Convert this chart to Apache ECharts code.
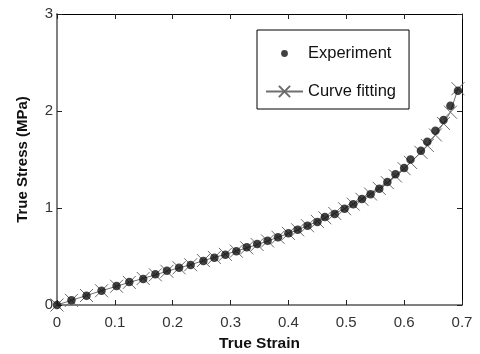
<!DOCTYPE html>
<html><head><meta charset="utf-8">
<script src="https://cdn.jsdelivr.net/npm/echarts@6/dist/echarts.min.js"></script>
<style>html,body{margin:0;padding:0;background:#fff}#c{width:480px;height:354px}</style>
</head><body><div id="c"></div>
<script>
var strain = [0, 0.025, 0.051, 0.077, 0.103, 0.125, 0.149, 0.170, 0.190, 0.211, 0.231, 0.253, 0.272, 0.291, 0.310, 0.328, 0.346, 0.364, 0.382, 0.400, 0.416, 0.433, 0.450, 0.463, 0.480, 0.497, 0.512, 0.527, 0.542, 0.557, 0.571, 0.585, 0.600, 0.611, 0.629, 0.640, 0.654, 0.668, 0.680, 0.693];
var expStress = [0, 0.05, 0.096, 0.147, 0.196, 0.237, 0.268, 0.316, 0.354, 0.385, 0.412, 0.454, 0.488, 0.519, 0.554, 0.595, 0.629, 0.663, 0.698, 0.739, 0.776, 0.818, 0.856, 0.907, 0.938, 0.993, 1.039, 1.093, 1.142, 1.198, 1.268, 1.347, 1.412, 1.50, 1.591, 1.684, 1.797, 1.907, 2.055, 2.209];
var fitStress = [0, 0.048, 0.098, 0.147, 0.193, 0.233, 0.274, 0.311, 0.347, 0.384, 0.415, 0.458, 0.490, 0.522, 0.555, 0.589, 0.623, 0.660, 0.698, 0.738, 0.775, 0.817, 0.862, 0.899, 0.944, 0.993, 1.040, 1.090, 1.144, 1.202, 1.261, 1.330, 1.405, 1.470, 1.574, 1.645, 1.753, 1.872, 1.988, 2.230];
var xTicks = [0, 0.1, 0.2, 0.3, 0.4, 0.5, 0.6, 0.7];
var yTicks = [0, 1, 2, 3];

function pairs(xs, ys){ return xs.map(function(x,i){return [x, ys[i]];}); }
var FONT = 'Liberation Sans, Arial, sans-serif';
var cross = 'path://M0,0L10,10M10,0L0,10';
var smallDot = 'path://M0,0M14,14M3.6,7A3.4,3.4,0,1,1,10.4,7A3.4,3.4,0,1,1,3.6,7Z';

var chart = echarts.init(document.getElementById('c'));
chart.setOption({
  animation: false,
  grid: {left: 57, right: 18, top: 14, bottom: 49, outerBoundsMode: 'none', containLabel: false},
  legend: {
    orient: 'vertical', left: 257, top: 30,
    padding: [15, 13, 9, 8], itemGap: 21,
    itemWidth: 37, itemHeight: 14,
    backgroundColor: '#fff', borderColor: '#000', borderWidth: 1,
    textStyle: {fontFamily: FONT, fontSize: 16.5, color: '#111'},
    data: [{name: 'Experiment', icon: smallDot}, {name: 'Curve fitting'}]
  },
  xAxis: [{
    type: 'value', min: xTicks[0], max: xTicks[xTicks.length-1], interval: 0.1,
    name: 'True Strain', nameLocation: 'middle', nameGap: 31,
    nameTextStyle: {fontFamily: FONT, fontSize: 15.5, fontWeight: 'bold', color: '#111'},
    axisLine: {show: true, onZero: false, lineStyle: {color: '#808080', width: 2}},
    axisTick: {show: true, inside: true, length: 5, lineStyle: {color: '#222'}},
    axisLabel: {fontFamily: FONT, fontSize: 15, color: '#333', margin: 10,
      formatter: function(v){ return String(Math.round(v*10)/10); }},
    splitLine: {show: false}
  }, {
    type: 'value', position: 'top', min: xTicks[0], max: xTicks[xTicks.length-1], interval: 0.1,
    axisLine: {show: true, onZero: false, lineStyle: {color: '#000', width: 1}},
    axisTick: {show: true, inside: true, length: 5, lineStyle: {color: '#222'}},
    axisLabel: {show: false}, splitLine: {show: false}
  }],
  yAxis: [{
    type: 'value', min: yTicks[0], max: yTicks[yTicks.length-1], interval: 1,
    name: 'True Stress (MPa)', nameLocation: 'middle', nameGap: 27,
    nameTextStyle: {fontFamily: FONT, fontSize: 15, fontWeight: 'bold', color: '#111'},
    axisLine: {show: true, onZero: false, lineStyle: {color: '#808080', width: 2}},
    axisTick: {show: true, inside: true, length: 5, lineStyle: {color: '#222'}},
    axisLabel: {fontFamily: FONT, fontSize: 15, color: '#333', margin: 4},
    splitLine: {show: false}
  }, {
    type: 'value', position: 'right', min: yTicks[0], max: yTicks[yTicks.length-1], interval: 1,
    axisLine: {show: true, onZero: false, lineStyle: {color: '#000', width: 1}},
    axisTick: {show: true, inside: true, length: 5, lineStyle: {color: '#222'}},
    axisLabel: {show: false}, splitLine: {show: false}
  }],
  series: [{
    name: 'Curve fitting', type: 'line', data: pairs(strain, fitStress),
    symbol: cross, symbolSize: 13,
    lineStyle: {color: '#707070', width: 1},
    itemStyle: {color: 'rgba(0,0,0,0)', borderColor: '#6a6a6a', borderWidth: 1},
    z: 2
  }, {
    name: 'Experiment', type: 'scatter', data: pairs(strain, expStress),
    symbol: 'circle', symbolSize: 8.5,
    itemStyle: {color: '#111'},
    z: 3
  }]
});
</script></body></html>
